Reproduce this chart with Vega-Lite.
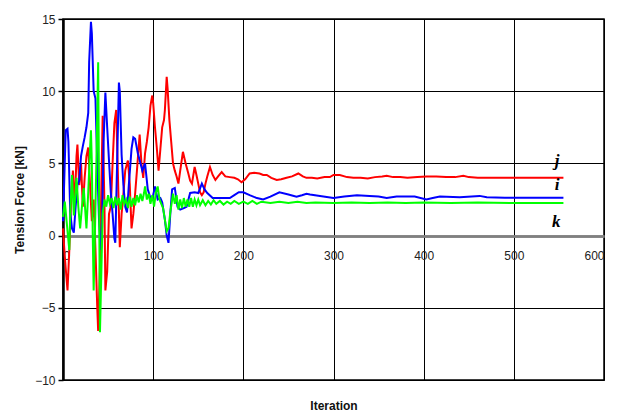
{
  "$schema": "https://vega.github.io/schema/vega-lite/v6.json",
  "autosize": {"type": "none"},
  "width": 541,
  "height": 361,
  "padding": {"left": 63, "top": 19, "right": 20, "bottom": 35},
  "background": "white",
  "config": {
    "font": "Liberation Sans",
    "view": {"stroke": "black", "strokeWidth": 1.5},
    "axis": {"labelFont": "Liberation Sans", "labelFontSize": 12, "labelColor": "#222", "titleFont": "Liberation Sans", "titleFontSize": 12, "titleFontWeight": "bold", "titleColor": "#111"}
  },
  "datasets": {
    "lines": [
      {"s":"j","x":0,"y":0.5},{"s":"j","x":2,"y":-1.5},{"s":"j","x":5,"y":-3.8},{"s":"j","x":7,"y":-1},{"s":"j","x":9,"y":2.5},{"s":"j","x":11,"y":4.5},{"s":"j","x":13,"y":2.0},{"s":"j","x":15,"y":5.5},{"s":"j","x":16,"y":6.3},{"s":"j","x":18,"y":3.5},{"s":"j","x":20,"y":5.0},{"s":"j","x":22,"y":2.0},{"s":"j","x":24,"y":4.0},{"s":"j","x":26,"y":5.5},{"s":"j","x":28,"y":6.1},{"s":"j","x":30,"y":3.5},{"s":"j","x":32,"y":1.0},{"s":"j","x":34,"y":2.5},{"s":"j","x":36,"y":-1.0},{"s":"j","x":38,"y":-5.0},{"s":"j","x":39,"y":-6.6},{"s":"j","x":41,"y":-2.0},{"s":"j","x":43,"y":5.0},{"s":"j","x":44,"y":8.3},{"s":"j","x":46,"y":2.0},{"s":"j","x":47,"y":-3.8},{"s":"j","x":49,"y":-2.5},{"s":"j","x":51,"y":1.5},{"s":"j","x":53,"y":2.0},{"s":"j","x":55,"y":5.0},{"s":"j","x":57,"y":7.8},{"s":"j","x":59,"y":8.7},{"s":"j","x":61,"y":4.0},{"s":"j","x":63,"y":-0.8},{"s":"j","x":65,"y":1.5},{"s":"j","x":67,"y":2.9},{"s":"j","x":69,"y":4.5},{"s":"j","x":71,"y":5.0},{"s":"j","x":72,"y":5.2},{"s":"j","x":74,"y":3.6},{"s":"j","x":76,"y":0.5},{"s":"j","x":78,"y":1.5},{"s":"j","x":80,"y":2.9},{"s":"j","x":82,"y":4.5},{"s":"j","x":85,"y":7.0},{"s":"j","x":87,"y":5.0},{"s":"j","x":89,"y":4.0},{"s":"j","x":91,"y":5.7},{"s":"j","x":93,"y":6.5},{"s":"j","x":95,"y":7.5},{"s":"j","x":97,"y":9.0},{"s":"j","x":99,"y":9.7},{"s":"j","x":100,"y":9.2},{"s":"j","x":102,"y":7.5},{"s":"j","x":104,"y":6.1},{"s":"j","x":106,"y":4.5},{"s":"j","x":108,"y":6.0},{"s":"j","x":110,"y":7.5},{"s":"j","x":112,"y":8.0},{"s":"j","x":113,"y":8.7},{"s":"j","x":115,"y":11.0},{"s":"j","x":116,"y":10.2},{"s":"j","x":118,"y":8.0},{"s":"j","x":120,"y":6.5},{"s":"j","x":122,"y":5.0},{"s":"j","x":124,"y":4.5},{"s":"j","x":126,"y":4.1},{"s":"j","x":128,"y":3.6},{"s":"j","x":130,"y":4.5},{"s":"j","x":133,"y":5.8},{"s":"j","x":136,"y":5.0},{"s":"j","x":139,"y":4.3},{"s":"j","x":141,"y":3.8},{"s":"j","x":143,"y":3.6},{"s":"j","x":146,"y":4.75},{"s":"j","x":148,"y":4.2},{"s":"j","x":150,"y":3.6},{"s":"j","x":152,"y":3.0},{"s":"j","x":154,"y":2.8},{"s":"j","x":156,"y":3.0},{"s":"j","x":158,"y":3.6},{"s":"j","x":160,"y":4.1},{"s":"j","x":163,"y":4.75},{"s":"j","x":166,"y":4.2},{"s":"j","x":169,"y":3.85},{"s":"j","x":172,"y":4.1},{"s":"j","x":176,"y":4.4},{"s":"j","x":180,"y":4.1},{"s":"j","x":185,"y":4.05},{"s":"j","x":190,"y":4.0},{"s":"j","x":194,"y":3.9},{"s":"j","x":198,"y":3.7},{"s":"j","x":202,"y":3.9},{"s":"j","x":207,"y":4.3},{"s":"j","x":212,"y":4.35},{"s":"j","x":218,"y":4.3},{"s":"j","x":222,"y":4.2},{"s":"j","x":226,"y":4.2},{"s":"j","x":231,"y":4.0},{"s":"j","x":237,"y":3.85},{"s":"j","x":242,"y":3.9},{"s":"j","x":248,"y":4.0},{"s":"j","x":254,"y":4.1},{"s":"j","x":261,"y":4.3},{"s":"j","x":266,"y":4.1},{"s":"j","x":270,"y":4.0},{"s":"j","x":276,"y":4.0},{"s":"j","x":282,"y":3.95},{"s":"j","x":290,"y":4.05},{"s":"j","x":296,"y":4.05},{"s":"j","x":300,"y":4.2},{"s":"j","x":307,"y":4.2},{"s":"j","x":315,"y":4.05},{"s":"j","x":322,"y":4.0},{"s":"j","x":330,"y":4.0},{"s":"j","x":338,"y":3.95},{"s":"j","x":346,"y":4.05},{"s":"j","x":354,"y":4.1},{"s":"j","x":359,"y":4.15},{"s":"j","x":366,"y":4.05},{"s":"j","x":374,"y":4.05},{"s":"j","x":382,"y":4.0},{"s":"j","x":393,"y":4.05},{"s":"j","x":403,"y":4.1},{"s":"j","x":414,"y":4.1},{"s":"j","x":425,"y":4.05},{"s":"j","x":435,"y":4.05},{"s":"j","x":444,"y":4.15},{"s":"j","x":450,"y":4.05},{"s":"j","x":460,"y":4.0},{"s":"j","x":480,"y":4.0},{"s":"j","x":500,"y":4.0},{"s":"j","x":520,"y":4.0},{"s":"j","x":540,"y":4.0},{"s":"j","x":555,"y":4.0},

      {"s":"i","x":0,"y":1.0},{"s":"i","x":1,"y":3.0},{"s":"i","x":3,"y":7.3},{"s":"i","x":5,"y":7.4},{"s":"i","x":6,"y":6.5},{"s":"i","x":8,"y":1.6},{"s":"i","x":10,"y":0.5},{"s":"i","x":12,"y":0.2},{"s":"i","x":14,"y":2.0},{"s":"i","x":16,"y":3.5},{"s":"i","x":18,"y":3.8},{"s":"i","x":20,"y":5.5},{"s":"i","x":22,"y":6.2},{"s":"i","x":24,"y":6.8},{"s":"i","x":26,"y":7.5},{"s":"i","x":28,"y":8.5},{"s":"i","x":29,"y":12.0},{"s":"i","x":31,"y":14.8},{"s":"i","x":32,"y":14.0},{"s":"i","x":34,"y":10.0},{"s":"i","x":36,"y":9.5},{"s":"i","x":38,"y":5.0},{"s":"i","x":40,"y":1.0},{"s":"i","x":42,"y":-1.0},{"s":"i","x":43,"y":-0.5},{"s":"i","x":45,"y":6.5},{"s":"i","x":47,"y":9.9},{"s":"i","x":49,"y":7.5},{"s":"i","x":51,"y":5.2},{"s":"i","x":53,"y":3.0},{"s":"i","x":55,"y":1.5},{"s":"i","x":57,"y":-0.2},{"s":"i","x":58,"y":-0.5},{"s":"i","x":60,"y":5.0},{"s":"i","x":62,"y":10.6},{"s":"i","x":63,"y":10.0},{"s":"i","x":65,"y":5.6},{"s":"i","x":67,"y":3.5},{"s":"i","x":69,"y":2.0},{"s":"i","x":71,"y":1.6},{"s":"i","x":73,"y":3.5},{"s":"i","x":76,"y":6.0},{"s":"i","x":78,"y":6.8},{"s":"i","x":80,"y":6.7},{"s":"i","x":83,"y":5.7},{"s":"i","x":86,"y":5.0},{"s":"i","x":88,"y":4.5},{"s":"i","x":91,"y":5.0},{"s":"i","x":94,"y":3.2},{"s":"i","x":97,"y":2.6},{"s":"i","x":99,"y":2.5},{"s":"i","x":102,"y":3.4},{"s":"i","x":105,"y":2.5},{"s":"i","x":108,"y":2.6},{"s":"i","x":110,"y":2.3},{"s":"i","x":113,"y":1.1},{"s":"i","x":115,"y":0.0},{"s":"i","x":117,"y":-0.5},{"s":"i","x":119,"y":1.5},{"s":"i","x":121,"y":3.2},{"s":"i","x":124,"y":3.3},{"s":"i","x":127,"y":2.0},{"s":"i","x":130,"y":1.8},{"s":"i","x":134,"y":1.9},{"s":"i","x":137,"y":2.0},{"s":"i","x":141,"y":2.95},{"s":"i","x":146,"y":3.0},{"s":"i","x":150,"y":2.95},{"s":"i","x":154,"y":3.6},{"s":"i","x":157,"y":3.2},{"s":"i","x":160,"y":2.95},{"s":"i","x":166,"y":2.6},{"s":"i","x":175,"y":2.6},{"s":"i","x":185,"y":2.6},{"s":"i","x":190,"y":2.8},{"s":"i","x":195,"y":3.0},{"s":"i","x":200,"y":3.0},{"s":"i","x":207,"y":2.8},{"s":"i","x":215,"y":2.6},{"s":"i","x":222,"y":2.5},{"s":"i","x":230,"y":2.7},{"s":"i","x":240,"y":3.0},{"s":"i","x":250,"y":2.85},{"s":"i","x":259,"y":2.7},{"s":"i","x":265,"y":2.8},{"s":"i","x":270,"y":2.9},{"s":"i","x":274,"y":2.85},{"s":"i","x":285,"y":2.75},{"s":"i","x":300,"y":2.6},{"s":"i","x":312,"y":2.7},{"s":"i","x":326,"y":2.8},{"s":"i","x":340,"y":2.75},{"s":"i","x":350,"y":2.7},{"s":"i","x":359,"y":2.6},{"s":"i","x":370,"y":2.7},{"s":"i","x":390,"y":2.7},{"s":"i","x":403,"y":2.5},{"s":"i","x":410,"y":2.6},{"s":"i","x":418,"y":2.7},{"s":"i","x":440,"y":2.65},{"s":"i","x":462,"y":2.75},{"s":"i","x":470,"y":2.65},{"s":"i","x":490,"y":2.62},{"s":"i","x":520,"y":2.62},{"s":"i","x":555,"y":2.62},

      {"s":"k","x":0,"y":1.3},{"s":"k","x":2,"y":2.35},{"s":"k","x":4,"y":1.0},{"s":"k","x":5.5,"y":0},{"s":"k","x":7,"y":-1},{"s":"k","x":8,"y":1.5},{"s":"k","x":10,"y":4.2},{"s":"k","x":12,"y":1.4},{"s":"k","x":15,"y":4.0},{"s":"k","x":17,"y":2.0},{"s":"k","x":19,"y":0.5},{"s":"k","x":21,"y":2.0},{"s":"k","x":23,"y":3.3},{"s":"k","x":26,"y":0.5},{"s":"k","x":28,"y":3.0},{"s":"k","x":30,"y":6.0},{"s":"k","x":31,"y":7.3},{"s":"k","x":32,"y":5.0},{"s":"k","x":33,"y":0},{"s":"k","x":34,"y":-3.8},{"s":"k","x":35,"y":-1},{"s":"k","x":37,"y":5},{"s":"k","x":39,"y":12.0},{"s":"k","x":40,"y":3},{"s":"k","x":41,"y":-6.7},{"s":"k","x":42,"y":-4},{"s":"k","x":44,"y":1.5},{"s":"k","x":46,"y":2.5},{"s":"k","x":48,"y":2.0},{"s":"k","x":50,"y":2.8},{"s":"k","x":52,"y":2.2},{"s":"k","x":54,"y":2.6},{"s":"k","x":56,"y":1.9},{"s":"k","x":58,"y":2.7},{"s":"k","x":60,"y":2.1},{"s":"k","x":62,"y":2.6},{"s":"k","x":64,"y":1.8},{"s":"k","x":66,"y":2.8},{"s":"k","x":68,"y":2.2},{"s":"k","x":70,"y":2.5},{"s":"k","x":72,"y":1.9},{"s":"k","x":74,"y":2.7},{"s":"k","x":76,"y":2.0},{"s":"k","x":78,"y":2.6},{"s":"k","x":80,"y":2.1},{"s":"k","x":82,"y":2.8},{"s":"k","x":84,"y":2.3},{"s":"k","x":86,"y":2.9},{"s":"k","x":88,"y":2.4},{"s":"k","x":90,"y":3.0},{"s":"k","x":91,"y":3.4},{"s":"k","x":93,"y":2.5},{"s":"k","x":95,"y":2.9},{"s":"k","x":97,"y":2.2},{"s":"k","x":99,"y":2.8},{"s":"k","x":101,"y":2.0},{"s":"k","x":103,"y":3.0},{"s":"k","x":105,"y":3.4},{"s":"k","x":107,"y":2.5},{"s":"k","x":109,"y":2.2},{"s":"k","x":111,"y":1.9},{"s":"k","x":113,"y":1.1},{"s":"k","x":115,"y":0.3},{"s":"k","x":117,"y":0.5},{"s":"k","x":119,"y":1.6},{"s":"k","x":122,"y":2.9},{"s":"k","x":124,"y":2.2},{"s":"k","x":126,"y":2.8},{"s":"k","x":128,"y":1.8},{"s":"k","x":130,"y":2.5},{"s":"k","x":132,"y":1.9},{"s":"k","x":134,"y":2.6},{"s":"k","x":136,"y":2.0},{"s":"k","x":138,"y":2.5},{"s":"k","x":140,"y":2.0},{"s":"k","x":142,"y":2.6},{"s":"k","x":144,"y":2.0},{"s":"k","x":146,"y":2.5},{"s":"k","x":148,"y":2.1},{"s":"k","x":150,"y":2.5},{"s":"k","x":152,"y":2.1},{"s":"k","x":155,"y":2.45},{"s":"k","x":158,"y":2.1},{"s":"k","x":161,"y":2.4},{"s":"k","x":164,"y":2.15},{"s":"k","x":167,"y":2.45},{"s":"k","x":170,"y":2.2},{"s":"k","x":174,"y":2.4},{"s":"k","x":178,"y":2.15},{"s":"k","x":182,"y":2.35},{"s":"k","x":186,"y":2.2},{"s":"k","x":190,"y":2.4},{"s":"k","x":195,"y":2.2},{"s":"k","x":200,"y":2.35},{"s":"k","x":205,"y":2.2},{"s":"k","x":210,"y":2.4},{"s":"k","x":215,"y":2.2},{"s":"k","x":220,"y":2.35},{"s":"k","x":230,"y":2.25},{"s":"k","x":240,"y":2.35},{"s":"k","x":250,"y":2.25},{"s":"k","x":260,"y":2.35},{"s":"k","x":270,"y":2.25},{"s":"k","x":280,"y":2.3},{"s":"k","x":300,"y":2.25},{"s":"k","x":320,"y":2.3},{"s":"k","x":340,"y":2.25},{"s":"k","x":360,"y":2.3},{"s":"k","x":380,"y":2.25},{"s":"k","x":400,"y":2.3},{"s":"k","x":430,"y":2.25},{"s":"k","x":460,"y":2.3},{"s":"k","x":500,"y":2.25},{"s":"k","x":555,"y":2.25}
    ],
    "labels": [
      {"t":"j","x":548,"y":5.2},
      {"t":"i","x":548,"y":3.5},
      {"t":"k","x":547,"y":0.95}
    ]
  },
  "layer": [
    {
      "data": {"name": "lines"},
      "mark": {"type": "line", "strokeWidth": 2, "interpolate": "linear"},
      "encoding": {
        "x": {
          "field": "x", "type": "quantitative",
          "scale": {"domain": [0, 600], "nice": false, "zero": false},
          "axis": {
            "title": "Iteration", "values": [0,100,200,300,400,500,600],
            "offset": -144, "ticks": false, "labelPadding": 14,
            "domainColor": "#808080", "domainWidth": 2.5,
            "grid": true, "gridColor": "#000", "gridWidth": 1, "gridOpacity": 1,
            "titleY": 169, "titleBaseline": "middle"
          }
        },
        "y": {
          "field": "y", "type": "quantitative",
          "scale": {"domain": [-10, 15], "nice": false, "zero": false},
          "axis": {
            "title": "Tension Force [kN]", "values": [-10,-5,0,5,10,15],
            "tickColor": "#000", "tickSize": 5, "tickWidth": 1.5,
            "domainColor": "#000", "domainWidth": 2.5,
            "grid": true,
            "gridColor": {"condition": {"test": "datum.value === 0", "value": "#808080"}, "value": "#000"},
            "gridWidth": {"condition": {"test": "datum.value === 0", "value": 2.5}, "value": 1},
            "gridOpacity": 1, "labelPadding": 3, "titlePadding": 8
          }
        },
        "color": {
          "field": "s", "type": "nominal",
          "scale": {"domain": ["j", "i", "k"], "range": ["#ff0000", "#0000ff", "#00ff00"]},
          "legend": null
        },
        "order": {"field": "x", "type": "quantitative"}
      }
    },
    {
      "data": {"name": "labels"},
      "mark": {"type": "text", "font": "Liberation Serif", "fontSize": 17, "fontWeight": "bold", "fontStyle": "italic", "align": "center", "baseline": "middle", "color": "#000"},
      "encoding": {
        "x": {"field": "x", "type": "quantitative"},
        "y": {"field": "y", "type": "quantitative"},
        "text": {"field": "t"}
      }
    }
  ]
}
